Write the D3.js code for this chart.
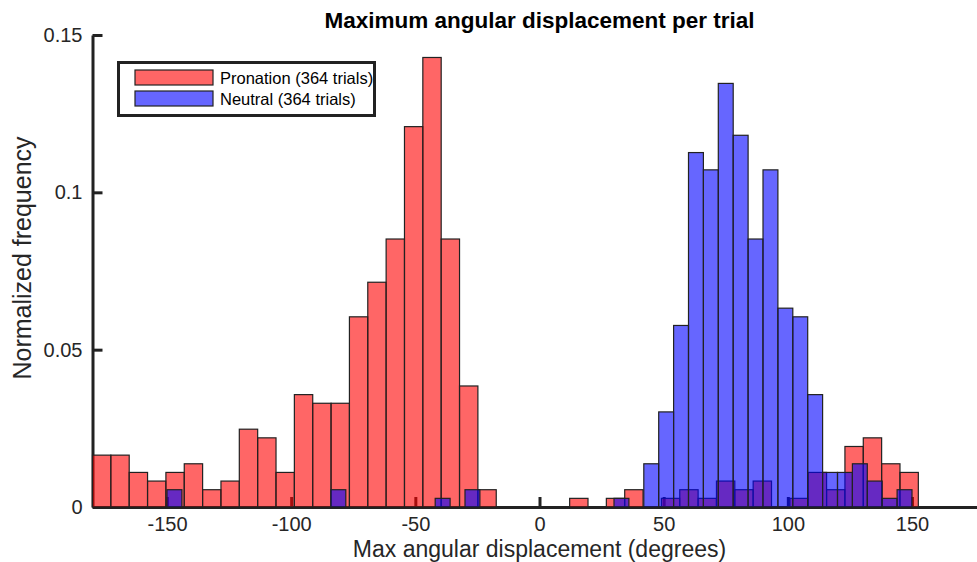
<!DOCTYPE html>
<html>
<head>
<meta charset="utf-8">
<script src="https://cdn.jsdelivr.net/npm/d3@7"></script>
<style>
  html, body { margin: 0; padding: 0; background: #fff; }
  svg { display: block; font-family: "Liberation Sans", Arial, Helvetica, sans-serif; }
</style>
</head>
<body>
<svg id="chart" width="977" height="562"></svg>
<script>
// Trials per condition (normalisation denominator)
const totalTrials = 364;

// Pronation histogram: bins of equal width starting at -180 deg
const pronationBinStart = -180;
const pronationBinWidth = 7.39;
const pronationCounts = [
  6, 6, 4, 3, 4, 5, 2, 3, 9, 8,
  4, 13, 12, 12, 22, 26, 31, 44, 52, 31,
  14, 2, 0, 0, 0, 0, 1, 0, 1, 2,
  0, 1, 2, 1, 3, 2, 3, 0, 1, 4,
  2, 7, 8, 5, 4
];

// Neutral histogram: 6-degree bins starting at -150 deg
const neutralBinStart = -150;
const neutralBinWidth = 6;
const neutralCounts = [
  2, 0, 0, 0, 0, 0, 0, 0, 0, 0,
  0, 2, 0, 0, 0, 0, 0, 0, 1, 0,
  2, 0, 0, 0, 0, 0, 0, 0, 0, 0,
  1, 0, 5, 11, 21, 41, 39, 49, 43, 31,
  39, 23, 22, 13, 4, 4, 5, 3, 1, 2
];

const xTicks = [-150, -100, -50, 0, 50, 100, 150];
const yTicks = [0, 0.05, 0.1, 0.15];
const seriesNames = ["Pronation (364 trials)", "Neutral (364 trials)"];
const seriesColors = ["rgb(255,0,0)", "rgb(0,0,255)"];

const svg = d3.select("#chart");
const ink = "#222";

const x = d3.scaleLinear().domain([-180, 180]).range([92.5, 986.5]);
const y = d3.scaleLinear().domain([0, 0.15]).range([507, 35]);

// Axes sit underneath the bars, ticks point into the plot area
const xAxis = svg.append("g")
  .attr("transform", `translate(0,${y(0)})`)
  .call(d3.axisBottom(x).tickValues(xTicks).tickSizeInner(-10).tickSizeOuter(0).tickPadding(9.5)
    .tickFormat(d => String(d)));
const yAxis = svg.append("g")
  .attr("transform", `translate(${x(-180)},0)`)
  .call(d3.axisLeft(y).tickValues(yTicks).tickSizeInner(-10).tickSizeOuter(0).tickPadding(10)
    .tickFormat(d => d === 0 ? "0" : d3.format("~g")(d)));

[xAxis, yAxis].forEach(g => {
  g.select(".domain").attr("stroke", ink).attr("stroke-width", 3);
  g.selectAll(".tick line").attr("stroke", ink).attr("stroke-width", 3);
  g.selectAll(".tick text").attr("fill", "#262626").attr("font-size", 20)
    .attr("font-family", "Liberation Sans, Arial, sans-serif");
});

// Histogram bars
function binsOf(counts, start, width) {
  return counts.map((c, i) => ({ x0: start + i * width, x1: start + (i + 1) * width, v: c / totalTrials }))
    .filter(b => b.v > 0);
}
const series = [
  binsOf(pronationCounts, pronationBinStart, pronationBinWidth),
  binsOf(neutralCounts, neutralBinStart, neutralBinWidth)
];

series.forEach((bins, si) => {
  svg.append("g").selectAll("rect").data(bins).join("rect")
    .attr("x", d => x(d.x0))
    .attr("y", d => y(d.v))
    .attr("width", d => x(d.x1) - x(d.x0))
    .attr("height", d => y(0) - y(d.v))
    .attr("fill", seriesColors[si])
    .attr("fill-opacity", 0.6)
    .attr("stroke", ink)
    .attr("stroke-width", 1.2);
});

// Title and axis labels
svg.append("text")
  .attr("x", x(0)).attr("y", 28)
  .attr("text-anchor", "middle")
  .attr("font-size", 22.5).attr("font-weight", "bold").attr("fill", "#000")
  .text("Maximum angular displacement per trial");

svg.append("text")
  .attr("x", x(0)).attr("y", 557)
  .attr("text-anchor", "middle")
  .attr("font-size", 23).attr("fill", "#262626")
  .text("Max angular displacement (degrees)");

svg.append("text")
  .attr("transform", "translate(31,258) rotate(-90)")
  .attr("text-anchor", "middle")
  .attr("font-size", 25).attr("fill", "#262626")
  .text("Normalized frequency");

// Legend
const legend = svg.append("g");
legend.append("rect")
  .attr("x", 118.5).attr("y", 62.5).attr("width", 256).attr("height", 53)
  .attr("fill", "#fff").attr("stroke", ink).attr("stroke-width", 3);
seriesNames.forEach((name, i) => {
  const ry = 70 + i * 21;
  legend.append("rect")
    .attr("x", 135).attr("y", ry).attr("width", 78).attr("height", 15)
    .attr("fill", seriesColors[i]).attr("fill-opacity", 0.6)
    .attr("stroke", ink).attr("stroke-width", 1.2);
  legend.append("text")
    .attr("x", 220).attr("y", ry + 13.5)
    .attr("font-size", 16.5).attr("fill", "#000")
    .text(name);
});
</script>
</body>
</html>
